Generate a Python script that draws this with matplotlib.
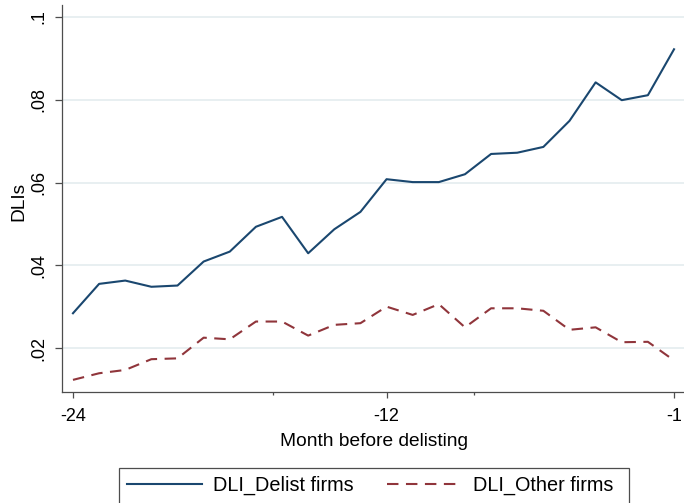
import matplotlib
matplotlib.use("Agg")
import matplotlib.pyplot as plt
from matplotlib.patches import Rectangle

plt.rcParams["font.family"] = ["Liberation Sans", "DejaVu Sans"]
plt.rcParams["axes.unicode_minus"] = False

# values
months = list(range(-24, 0))
dli_delist = [0.0284, 0.0355, 0.0363, 0.0348, 0.0351, 0.0409, 0.0433, 0.0493,
              0.0517, 0.0429, 0.0487, 0.0529, 0.0608, 0.0601, 0.0601, 0.0620,
              0.0669, 0.0672, 0.0686, 0.0749, 0.0842, 0.0799, 0.0811, 0.0922]
dli_other = [0.0123, 0.0139, 0.0147, 0.0173, 0.0175, 0.0225, 0.0221, 0.0264,
             0.0264, 0.0230, 0.0256, 0.0260, 0.0300, 0.0280, 0.0306, 0.0250,
             0.0296, 0.0296, 0.0290, 0.0244, 0.0250, 0.0214, 0.0215, 0.0170]
y_ticks = [0.02, 0.04, 0.06, 0.08, 0.1]
y_tick_labels = [".02", ".04", ".06", ".08", ".1"]
x_ticks = [-24, -12, -1]
x_minor_ticks = [-24 + 23 / 3, -24 + 46 / 3]

NAVY = "#1a476f"
MAROON = "#90353b"
AXIS_GRAY = "#4d4d4d"
FS = 13.8
LEG_FS = 14.3

fig = plt.figure(figsize=(6.84, 5.03), dpi=100)
ax = fig.add_axes([62 / 684, 111 / 503, 623 / 684, 387 / 503])

ax.plot(months, dli_delist, color=NAVY, lw=1.5, label="DLI_Delist firms")
ax.plot(months, dli_other, color=MAROON, lw=1.5, linestyle=(0, (5.5, 3.6)),
        label="DLI_Other firms")

ax.set_xlim(-24.42, -0.58)
ax.set_ylim(0.00937, 0.1029)

ax.set_yticks(y_ticks)
ax.set_yticklabels(y_tick_labels, rotation=90, va="center")
ax.set_xticks(x_ticks)
ax.set_xticks(x_minor_ticks, minor=True)

ax.grid(axis="y", color="#e6eef0", lw=1.3)
ax.set_axisbelow(True)

for side in ["top", "right"]:
    ax.spines[side].set_visible(False)
for side in ["left", "bottom"]:
    ax.spines[side].set_color(AXIS_GRAY)
    ax.spines[side].set_linewidth(0.9)

ax.tick_params(axis="y", length=5, width=0.9, color=AXIS_GRAY, pad=5.5, labelsize=13)
ax.tick_params(axis="x", which="major", length=4.5, width=0.9, color=AXIS_GRAY,
               pad=7, labelsize=13)
ax.tick_params(axis="x", which="minor", length=2.5, width=0.9, color=AXIS_GRAY)

ax.set_xlabel("Month before delisting", fontsize=FS)
ax.set_ylabel("DLIs", fontsize=FS)
ax.xaxis.set_label_coords(0.5, -0.106)
ax.yaxis.set_label_coords(-0.0562, 0.4935)

# legend entries without frame, box drawn separately (Stata legend is wider)
fig.legend(loc="upper left", bbox_to_anchor=(119 / 684, 1 - 467.7 / 503),
           ncol=2, fontsize=LEG_FS, frameon=False,
           borderaxespad=0, handlelength=3.77, handletextpad=0.55,
           columnspacing=1.71, borderpad=0.4)
fig.add_artist(Rectangle((119 / 684, -3 / 503), 510 / 684, 38.3 / 503,
                         transform=fig.transFigure, fill=False,
                         ec=AXIS_GRAY, lw=0.9))

fig.savefig("out.png", dpi=100)
